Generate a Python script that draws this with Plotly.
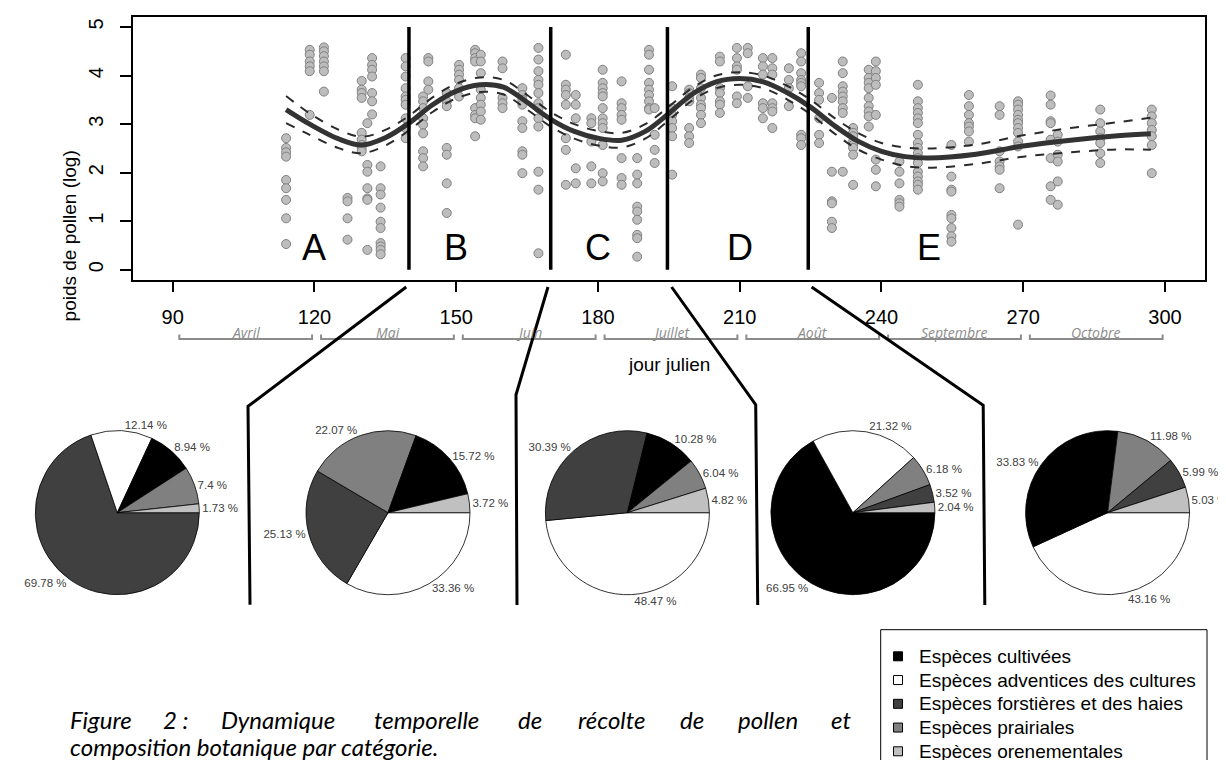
import plotly.graph_objects as go

# ---------------- data ----------------
# scatter observations: julian day columns and log pollen weight values
col_days = [114, 119, 122, 127, 130, 131.2, 132.2, 134, 139.3, 143, 144.1, 148, 150.6, 154, 155.2,
            159.8, 164, 167.4, 173.2, 175.3, 178.6, 181, 185, 188.3, 190.8, 192, 195.7, 199.3,
            201.8, 205.8, 209.4, 211.7, 214.9, 216.9, 220.4, 223, 226.8, 229.5, 231.8, 234,
            237.3, 238.8, 243.8, 247.7, 254.8, 258.5, 265, 268.9, 275.8, 277.3, 286.3, 297.2]
col_vals = [
    [2.71, 2.51, 2.42, 2.33, 1.85, 1.68, 1.44, 1.06, 0.53],
    [4.53, 4.43, 4.29, 4.19, 4.09, 3.19],
    [4.58, 4.50, 4.40, 4.29, 4.19, 4.09, 3.67],
    [1.48, 1.41, 1.06, 0.62],
    [3.89, 3.71, 3.64, 3.54, 2.82, 2.68, 2.57, 2.51, 2.44],
    [3.02, 2.16, 2.02, 1.68, 1.47, 1.44, 0.41],
    [4.36, 4.22, 4.12, 3.98, 3.64, 3.47, 3.20],
    [2.13, 1.68, 1.55, 1.28, 0.99, 0.86, 0.55, 0.48, 0.41, 0.32],
    [4.36, 4.19, 3.98, 3.74, 3.57, 3.50, 3.40, 3.12, 2.92, 2.71],
    [3.57, 3.47, 3.33, 3.12, 2.99, 2.81, 2.44, 2.30, 2.13],
    [4.36, 4.29, 3.88, 3.71],
    [3.64, 3.47, 3.37, 2.51, 2.37, 1.78, 1.17],
    [4.22, 4.12, 4.02, 3.91, 3.74, 3.57],
    [4.53, 4.46, 4.36, 4.29, 3.33, 3.19, 3.12, 2.75],
    [4.43, 4.29, 4.05, 3.71, 3.54, 3.40, 3.26, 3.09],
    [4.29, 4.15, 3.54, 3.43, 3.33],
    [3.74, 3.60, 3.50, 3.40, 3.06, 2.92, 2.44, 2.37, 1.99],
    [4.57, 4.33, 4.09, 3.91, 3.81, 3.64, 3.43, 3.33, 3.12, 2.95, 2.02, 1.65, 0.34],
    [4.43, 3.81, 3.71, 3.60, 3.40, 2.71, 2.47, 1.75],
    [3.60, 3.40, 3.12, 2.09, 1.78],
    [3.12, 3.02, 2.64, 2.13, 1.78],
    [4.12, 3.85, 3.74, 3.64, 3.57, 3.33, 3.12, 3.02, 2.92, 2.57, 1.99, 1.82],
    [3.88, 3.43, 3.33, 3.19, 3.09, 2.30, 1.89, 1.75],
    [2.30, 1.96, 1.78, 1.30, 1.20, 1.03, 0.72, 0.65, 0.27],
    [4.53, 4.43, 4.12, 3.85, 3.71, 3.60, 3.47, 3.33, 3.30],
    [3.33, 2.78, 2.47, 2.20],
    [3.78, 3.33, 3.19, 3.06, 2.92, 2.75, 1.96],
    [3.71, 3.64, 3.54, 3.47, 2.92, 2.75, 2.61],
    [4.02, 3.95, 3.74, 3.54, 3.40, 3.33, 3.19, 3.02],
    [4.39, 4.29, 3.74, 3.64, 3.47, 3.40, 3.23],
    [4.57, 4.36, 4.19, 4.12, 3.57, 3.43],
    [4.57, 4.46, 3.78, 3.54],
    [4.36, 4.19, 4.02, 3.43, 3.33, 3.12],
    [4.36, 4.15, 4.02, 3.43, 3.33, 3.26, 2.92],
    [4.15, 3.91, 3.74, 3.37],
    [4.46, 4.29, 4.05, 3.91, 3.85, 3.78, 2.78, 2.71, 2.57],
    [3.85, 3.64, 3.50, 3.12, 2.78, 2.61],
    [3.54, 2.02, 1.41, 1.37, 0.99, 0.86],
    [4.29, 4.05, 3.78, 3.67, 3.57, 3.47, 3.33, 3.23, 2.02],
    [2.92, 2.82, 2.75, 2.64, 2.57, 2.51, 2.37, 1.75],
    [4.12, 3.95, 3.85, 3.74, 3.54, 3.37, 3.26, 3.16, 2.95],
    [4.29, 4.09, 3.95, 3.81, 3.19, 2.27, 2.06, 1.72],
    [2.23, 2.02, 1.78, 1.44, 1.37, 1.30],
    [3.81, 3.47, 3.33, 3.23, 3.12, 3.02, 2.78, 2.61, 2.51, 2.40, 2.30, 2.20, 2.02, 1.92, 1.82, 1.75, 1.65],
    [2.57, 1.92, 1.65, 1.61, 1.13, 1.06, 0.86, 0.69, 0.58],
    [3.60, 3.37, 3.19, 3.02, 2.95, 2.85, 2.64],
    [3.37, 3.19, 2.44, 2.23, 2.13, 2.06, 1.68],
    [3.47, 3.40, 3.30, 3.19, 3.09, 3.02, 2.92, 2.82, 2.64, 2.54, 0.93],
    [3.59, 3.40, 3.06, 3.02, 2.68, 2.30, 1.72, 1.44],
    [2.78, 2.64, 2.37, 2.23, 1.82, 1.34],
    [3.30, 3.02, 2.85, 2.71, 2.61, 2.40, 2.20],
    [3.30, 3.16, 3.02, 2.88, 2.75, 2.57, 1.99],
]

# smoothed fit and confidence band
fit_days = [114, 119, 125, 130, 135, 140, 145, 150, 155, 160, 165, 170, 175, 180, 185, 190, 195,
            200, 205, 210, 215, 220, 225, 230, 235, 240, 245, 250, 260, 270, 280, 290, 297]
fit_vals = [3.30, 3.00, 2.70, 2.57, 2.72, 3.02, 3.40, 3.68, 3.81, 3.76, 3.45, 3.10, 2.85, 2.71,
            2.67, 2.85, 3.22, 3.62, 3.87, 3.94, 3.87, 3.65, 3.35, 2.97, 2.65, 2.44, 2.33, 2.30,
            2.38, 2.55, 2.67, 2.76, 2.80]
fit_upper = [3.58, 3.22, 2.89, 2.74, 2.88, 3.17, 3.55, 3.83, 3.96, 3.91, 3.60, 3.25, 3.00, 2.86,
             2.82, 3.00, 3.36, 3.75, 4.00, 4.07, 4.00, 3.79, 3.50, 3.13, 2.82, 2.61, 2.52, 2.50,
             2.58, 2.77, 2.92, 3.04, 3.13]
fit_lower = [3.02, 2.78, 2.51, 2.40, 2.56, 2.87, 3.25, 3.53, 3.66, 3.61, 3.30, 2.95, 2.70, 2.56,
             2.52, 2.70, 3.08, 3.49, 3.74, 3.81, 3.74, 3.51, 3.20, 2.81, 2.48, 2.27, 2.14, 2.10,
             2.18, 2.33, 2.42, 2.48, 2.47]

# period boundaries and labels
boundaries = [140, 170, 194.7, 224.5]
period_labels = ["A", "B", "C", "D", "E"]
period_label_days = [120, 150, 180, 210, 250]
period_label_y = 0.45

x_ticks = [90, 120, 150, 180, 210, 240, 270, 300]
y_ticks = [0, 1, 2, 3, 4, 5]
month_names = ["Avril", "Mai", "Juin", "Juillet", "Août", "Septembre", "Octobre"]
month_starts = [90, 120, 150, 180, 210, 240, 270]

# pie charts: botanical composition per period (%)
categories = ["Espèces cultivées", "Espèces adventices des cultures",
              "Espèces forstières et des haies", "Espèces prairiales", "Espèces orenementales"]
cat_colors = ["#000000", "#ffffff", "#404040", "#808080", "#c0c0c0"]
pie_A = [8.94, 12.14, 69.78, 7.4, 1.73]
pie_B = [15.72, 33.36, 25.13, 22.07, 3.72]
pie_C = [10.28, 48.47, 30.39, 6.04, 4.82]
pie_D = [66.95, 21.32, 3.52, 6.18, 2.04]
pie_E = [33.83, 43.16, 5.99, 11.98, 5.03]

caption_line1 = ["Figure", "2 :", "Dynamique", "temporelle", "de", "récolte", "de", "pollen", "et"]
caption_line2 = "composition botanique par catégorie."

# ---------------- layout helpers ----------------
W, H = 1226, 760
def px(x):
    return x / W
def py(y):
    return 1 - y / H

FONT = "Liberation Sans, Arial, sans-serif"

fig = go.Figure()

# observations
obs_x, obs_y = [], []
for d, vals in zip(col_days, col_vals):
    for v in vals:
        obs_x.append(d)
        obs_y.append(v)
fig.add_trace(go.Scatter(x=obs_x, y=obs_y, mode="markers", showlegend=False,
                         marker=dict(size=9, color="#bdbdbd", line=dict(color="#808080", width=1))))

# confidence band + fit
for band in (fit_upper, fit_lower):
    fig.add_trace(go.Scatter(x=fit_days, y=band, mode="lines", showlegend=False,
                             line=dict(color="#2b2b2b", width=2, dash="dash", shape="spline")))
fig.add_trace(go.Scatter(x=fit_days, y=fit_vals, mode="lines", showlegend=False,
                         line=dict(color="#333333", width=5, shape="spline")))

# pies
pie_centers = [109.3, 380, 619.4, 844.9, 1099.6]
pie_cy, pie_r = 504.7, 82
for vals, cx in zip([pie_A, pie_B, pie_C, pie_D, pie_E], pie_centers):
    fig.add_trace(go.Pie(
        values=vals, labels=categories, sort=True, direction="clockwise", rotation=90,
        marker=dict(colors=cat_colors, line=dict(color="#000000", width=0.8)),
        textposition="outside", texttemplate="%{value} %",
        textfont=dict(family=FONT, size=11.5, color="#404040"),
        showlegend=False, hoverinfo="label+value",
        domain=dict(x=[px(cx - pie_r), px(cx + pie_r)], y=[py(pie_cy + pie_r), py(pie_cy - pie_r)]),
    ))

shapes = []
annotations = []

# period boundary lines
for b in boundaries:
    shapes.append(dict(type="line", xref="x", yref="y", x0=b, x1=b, y0=0, y1=5,
                       line=dict(color="black", width=3.5)))

# month brackets
for s in month_starts:
    a, b = s + 1.4, s + 29.5
    shapes.append(dict(type="path", xref="x", yref="paper",
                       path=f"M {a},{py(326.5)} L {a},{py(331)} L {b},{py(331)} L {b},{py(326.5)}",
                       line=dict(color="#8c8c8c", width=2)))

# connectors from the timeline to the pies
connectors = [
    [(398.2, 279), (240, 398.3), (242, 596.7)],
    [(540, 279), (508, 386.7), (509, 597)],
    [(663.6, 279), (747.7, 396.7), (749.7, 597)],
    [(803.6, 279), (975.2, 397.3), (976.8, 597)],
]
for pts in connectors:
    path = "M " + " L ".join(f"{px(x)},{py(y)}" for x, y in pts)
    shapes.append(dict(type="path", xref="paper", yref="paper", path=path,
                       line=dict(color="black", width=3)))

# legend (drawn box, swatches and labels)
leg_left, leg_top, leg_right = 872.7, 621.7, 1199
shapes.append(dict(type="rect", xref="paper", yref="paper",
                   x0=px(leg_left), x1=px(leg_right), y0=py(leg_top), y1=py(765),
                   line=dict(color="black", width=1), fillcolor="white", layer="below"))
for i, (name, col) in enumerate(zip(categories, cat_colors)):
    yc = 648.3 + i * 23.75
    shapes.append(dict(type="rect", xref="paper", yref="paper",
                       x0=px(885.5), x1=px(894.5), y0=py(yc + 4.5), y1=py(yc - 4.5),
                       line=dict(color="black", width=1), fillcolor=col))
    annotations.append(dict(x=px(909), y=py(yc), xref="paper", yref="paper", text=name,
                            showarrow=False, xanchor="left", yanchor="middle",
                            font=dict(family=FONT, size=19, color="black")))

for lab, d in zip(period_labels, period_label_days):
    annotations.append(dict(x=d, y=period_label_y, xref="x", yref="y", text=lab, showarrow=False,
                            font=dict(family=FONT, size=36, color="black")))
for name, s in zip(month_names, month_starts):
    annotations.append(dict(x=s + 15.5, y=py(324.5), xref="x", yref="paper", text=name,
                            showarrow=False, yanchor="middle",
                            font=dict(family="Open Sans", size=14, color="#8c8c8c", style="italic")))
annotations.append(dict(x=px(660.9), y=py(356.7), xref="paper", yref="paper", text="jour julien",
                        showarrow=False, yanchor="middle",
                        font=dict(family=FONT, size=19, color="black")))
annotations.append(dict(x=px(49.4), y=py(140), xref="paper", yref="paper",
                        text="poids de pollen (log)", textangle=-90, showarrow=False,
                        font=dict(family=FONT, size=19, color="black")))

# caption (first line justified word by word)
cap_pos = [60, 168, 270, 418, 522, 603, 684, 760, 845]
cap_anchor = ["left", "center", "center", "center", "center", "center", "center", "center", "right"]
cap_font = dict(family="Lato", size=24, color="black", style="italic")
for w, xw, anc in zip(caption_line1, cap_pos, cap_anchor):
    annotations.append(dict(x=px(xw), y=py(711.5), xref="paper", yref="paper", text=w,
                            showarrow=False, xanchor=anc, yanchor="middle", font=cap_font))
annotations.append(dict(x=px(60), y=py(738), xref="paper", yref="paper",
                        text=caption_line2, showarrow=False,
                        xanchor="left", yanchor="middle", font=cap_font))

fig.update_layout(
    width=W, height=H, margin=dict(l=0, r=0, t=0, b=0),
    paper_bgcolor="white", plot_bgcolor="white",
    shapes=shapes, annotations=annotations,
    showlegend=False,
    xaxis=dict(domain=[px(125), px(1196.7)], range=[81.6, 308.4], tickvals=x_ticks,
               ticks="outside", ticklen=11, tickwidth=1.5, tickcolor="black",
               showline=True, mirror=True, linecolor="black", linewidth=1.5,
               showgrid=False, zeroline=False, ticklabelstandoff=8,
               tickfont=dict(family=FONT, size=20, color="black")),
    yaxis=dict(domain=[py(271.5), py(9.3)], range=[-0.2, 5.2], tickvals=y_ticks,
               tickangle=-90, ticks="outside", ticklen=11, tickwidth=1.5, tickcolor="black",
               showline=True, mirror=True, linecolor="black", linewidth=1.5,
               showgrid=False, zeroline=False, ticklabelstandoff=9,
               tickfont=dict(family=FONT, size=20, color="black")),
)

fig.write_html("out.html")
